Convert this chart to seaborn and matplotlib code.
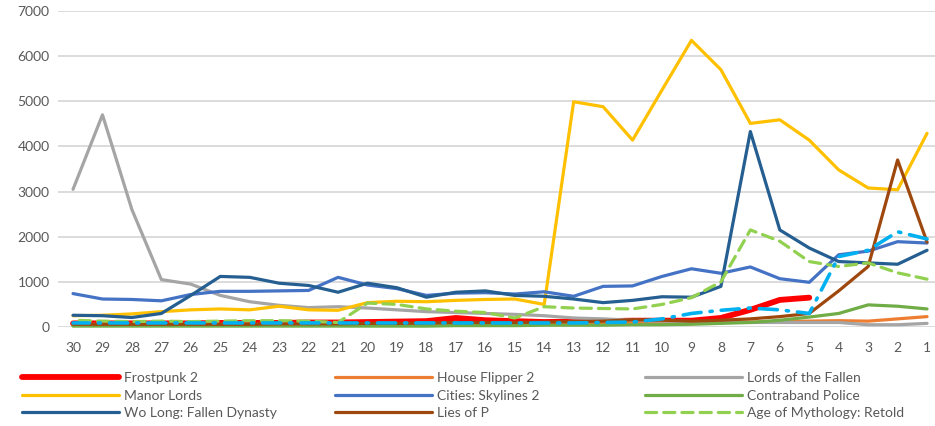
import matplotlib
matplotlib.use("Agg")
import matplotlib.pyplot as plt
import numpy as np
import pandas as pd
import seaborn as sns

days = list(range(30, 0, -1))

frostpunk_2 = [80, 80, 80, 80, 80, 90, 90, 90, 100, 100, 110, 120, 130, 200, 150, 130,
               110, 120, 130, 140, 140, 140, 200, 380, 600, 650,
               np.nan, np.nan, np.nan, np.nan]
house_flipper_2 = [60, 60, 60, 60, 60, 60, 60, 60, 60, 60, 70, 70, 70, 70, 70, 80,
                   80, 90, 90, 90, 100, 100, 100, 110, 120, 130, 140, 130, 180, 230]
lords_of_the_fallen = [3050, 4700, 2600, 1050, 950, 700, 560, 480, 430, 450, 420, 380,
                       340, 320, 300, 280, 250, 200, 180, 150, 130, 120, 110, 100,
                       100, 100, 100, 50, 50, 80]
manor_lords = [250, 260, 290, 340, 380, 400, 380, 460, 380, 370, 540, 570, 560, 590,
               610, 620, 500, 4990, 4880, 4140, 5250, 6350, 5700, 4510, 4590, 4140,
               3480, 3080, 3040, 4290]
cities_skylines_2 = [740, 620, 610, 580, 720, 790, 790, 800, 810, 1100, 930, 850, 700,
                     750, 760, 730, 780, 680, 900, 910, 1120, 1290, 1190, 1330, 1070,
                     990, 1600, 1680, 1890, 1860]
contraband_police = [20, 20, 20, 20, 20, 20, 20, 20, 20, 20, 20, 20, 20, 30, 30, 30,
                     40, 40, 40, 50, 50, 60, 80, 100, 150, 220, 300, 490, 460, 400]
wo_long = [260, 250, 210, 300, 700, 1120, 1100, 970, 920, 770, 970, 870, 660, 770, 800,
           700, 680, 620, 540, 590, 670, 660, 900, 4330, 2150, 1750, 1450, 1420, 1390,
           1700]
lies_of_p = [60, 60, 60, 60, 60, 60, 60, 70, 70, 70, 80, 80, 90, 100, 100, 100, 110,
             120, 130, 160, 150, 130, 150, 180, 230, 300, 800, 1340, 3700, 1880]
age_of_mythology = [150, 130, 120, 130, 120, 130, 140, 140, 130, 100, 530, 500, 400,
                    350, 320, 200, 450, 420, 410, 400, 500, 650, 1000, 2150, 1900, 1450,
                    1340, 1420, 1200, 1060]
unnamed_series = [90, 90, 90, 90, 90, 90, 90, 90, 90, 90, 90, 90, 90, 90, 90, 90, 90,
                  90, 100, 110, 180, 300, 370, 420, 380, 300, 1560, 1700, 2110, 1950]

series = [
    ("Frostpunk 2", frostpunk_2, "#FF0000", 4.2, "-"),
    ("House Flipper 2", house_flipper_2, "#ED7D31", 2.3, "-"),
    ("Lords of the Fallen", lords_of_the_fallen, "#A5A5A5", 2.3, "-"),
    ("Manor Lords", manor_lords, "#FFC000", 2.3, "-"),
    ("Cities: Skylines 2", cities_skylines_2, "#4472C4", 2.3, "-"),
    ("Contraband Police", contraband_police, "#70AD47", 2.3, "-"),
    ("Wo Long: Fallen Dynasty", wo_long, "#255E91", 2.3, "-"),
    ("Lies of P", lies_of_p, "#9E480E", 2.3, "-"),
    ("Age of Mythology: Retold", age_of_mythology, "#92D050", 2.3, (0, (3.5, 2.2))),
    ("_unnamed", unnamed_series, "#00B0F0", 2.6, (0, (5, 2.5, 0.6, 2.5))),
]

sns.set_style("white")
plt.rcParams["font.family"] = ["Lato", "DejaVu Sans"]

fig = plt.figure(figsize=(9.35, 4.26), dpi=100)
ax = fig.add_axes([58 / 935, 1 - 327 / 426, 1 - 58 / 935, 316 / 426])

handles = {}
for name, values, color, lw, ls in series:
    df = pd.DataFrame({"day": days, "value": values})
    sns.lineplot(data=df, x="day", y="value", ax=ax, color=color, linewidth=lw,
                 linestyle=ls, clip_on=False)
    line = ax.lines[-1]
    line.set_solid_capstyle("round")
    line.set_dash_capstyle("round")
    handles[name] = line

ax.set_xlim(30.51, 0.73)
ax.set_ylim(0, 7000)
ax.set_xticks(days)
ax.set_xticklabels([str(d) for d in days])
ax.set_yticks(range(0, 7001, 1000))
ax.set_xlabel("")
ax.set_ylabel("")
ax.grid(axis="y", color="#D9D9D9", linewidth=1.3)
ax.set_axisbelow(True)
for s in ax.spines.values():
    s.set_visible(False)
ax.tick_params(axis="both", length=0, labelsize=10, colors="#595959")
ax.tick_params(axis="x", pad=11)
ax.tick_params(axis="y", pad=6)

columns = [
    ["Frostpunk 2", "Manor Lords", "Wo Long: Fallen Dynasty"],
    ["House Flipper 2", "Cities: Skylines 2", "Lies of P"],
    ["Lords of the Fallen", "Contraband Police", "Age of Mythology: Retold"],
]
col_x = [22, 335, 645]
for names, x in zip(columns, col_x):
    fig.legend([handles[n] for n in names], names, loc="upper left",
               bbox_to_anchor=(x / 935, 1 - 372 / 426), frameon=False, ncol=1,
               fontsize=10, handlelength=7.0, handletextpad=0.35,
               labelspacing=0.4, borderpad=0, borderaxespad=0,
               labelcolor="#595959")

fig.savefig("out.png", dpi=100)
